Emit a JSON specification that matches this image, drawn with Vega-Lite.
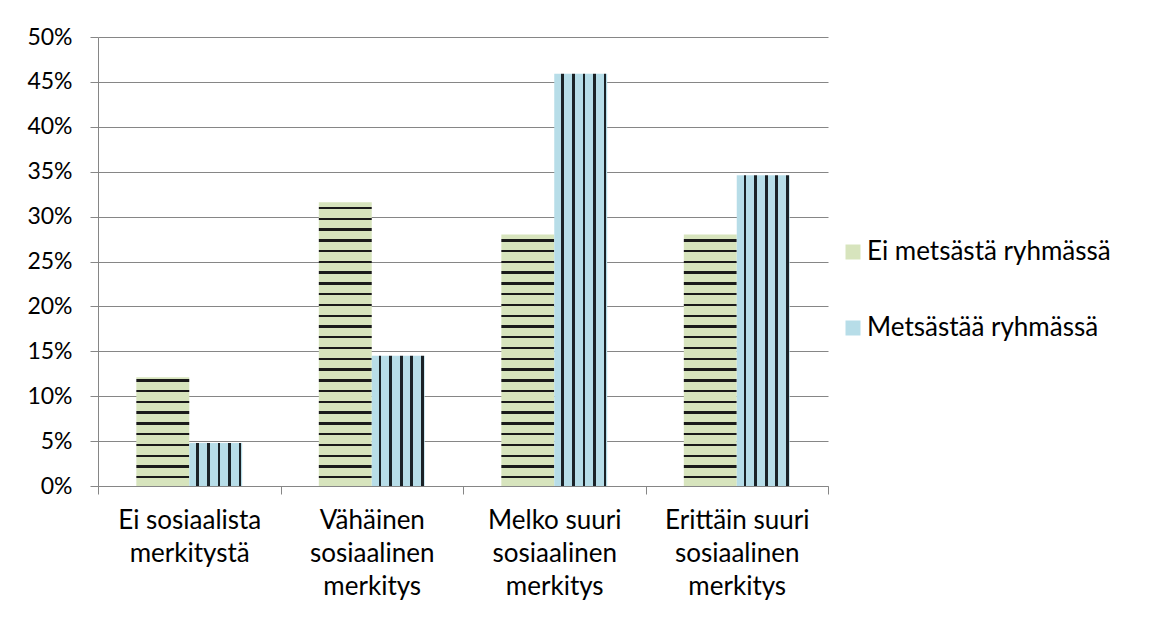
{
  "$schema": "https://vega.github.io/schema/vega-lite/v6.json",
  "width": 730,
  "height": 449,
  "autosize": "none",
  "padding": {"left": 98, "top": 37, "right": 340, "bottom": 132},
  "background": "white",
  "config": {"font": "Lato", "view": {"stroke": null}},
  "data": {"values": [
    {"category": "Ei sosiaalista merkitystä", "series": "Ei metsästä ryhmässä", "value": 0.121},
    {"category": "Ei sosiaalista merkitystä", "series": "Metsästää ryhmässä", "value": 0.048},
    {"category": "Vähäinen sosiaalinen merkitys", "series": "Ei metsästä ryhmässä", "value": 0.316},
    {"category": "Vähäinen sosiaalinen merkitys", "series": "Metsästää ryhmässä", "value": 0.145},
    {"category": "Melko suuri sosiaalinen merkitys", "series": "Ei metsästä ryhmässä", "value": 0.28},
    {"category": "Melko suuri sosiaalinen merkitys", "series": "Metsästää ryhmässä", "value": 0.459},
    {"category": "Erittäin suuri sosiaalinen merkitys", "series": "Ei metsästä ryhmässä", "value": 0.28},
    {"category": "Erittäin suuri sosiaalinen merkitys", "series": "Metsästää ryhmässä", "value": 0.346}
  ]},
  "mark": {"type": "bar", "strokeWidth": 0},
  "encoding": {
    "x": {
      "field": "category", "type": "nominal", "sort": null,
      "scale": {"paddingInner": 0, "paddingOuter": 0},
      "axis": {
        "title": null, "labelAngle": 0, "tickBand": "extent", "tickSize": 8,
        "domainColor": "#868686", "tickColor": "#868686", "grid": false,
        "labelFont": "Lato", "labelFontSize": 26, "labelColor": "#000000",
        "labelPadding": 13, "labelLineHeight": 33, "labelLimit": 0,
        "labelExpr": "datum.label === 'Ei sosiaalista merkitystä' ? ['Ei sosiaalista', 'merkitystä'] : datum.label === 'Vähäinen sosiaalinen merkitys' ? ['Vähäinen', 'sosiaalinen', 'merkitys'] : datum.label === 'Melko suuri sosiaalinen merkitys' ? ['Melko suuri', 'sosiaalinen', 'merkitys'] : datum.label === 'Erittäin suuri sosiaalinen merkitys' ? ['Erittäin suuri', 'sosiaalinen', 'merkitys'] : ''"
      }
    },
    "xOffset": {
      "field": "series", "type": "nominal",
      "sort": ["Ei metsästä ryhmässä", "Metsästää ryhmässä"],
      "scale": {"paddingInner": 0, "paddingOuter": 0.724}
    },
    "y": {
      "field": "value", "type": "quantitative",
      "scale": {"domain": [0, 0.5], "nice": false},
      "axis": {
        "title": null, "values": [0, 0.05, 0.1, 0.15, 0.2, 0.25, 0.3, 0.35, 0.4, 0.45, 0.5],
        "format": ".0%", "tickSize": 8, "labelPadding": 18,
        "domainColor": "#868686", "tickColor": "#868686", "gridColor": "#868686", "grid": true,
        "labelFont": "Lato", "labelFontSize": 23, "labelColor": "#000000"
      }
    },
    "fill": {
      "field": "series", "type": "nominal",
      "scale": {"domain": ["Ei metsästä ryhmässä", "Metsästää ryhmässä"], "range": ["#d7e4bd", "#b7dde8"]},
      "legend": {
        "title": null, "orient": "none", "legendX": 742, "legendY": 202, "padding": 0,
        "symbolType": "square", "symbolSize": 225, "symbolStrokeWidth": 0,
        "labelFont": "Lato", "labelFontSize": 26, "labelColor": "#000000", "labelLimit": 0,
        "rowPadding": 50, "labelOffset": 1
      },
      "condition": [
        {"test": "datum.series === 'Ei metsästä ryhmässä' && datum.category === 'Ei sosiaalista merkitystä'",
         "value": {"gradient": "linear", "x1": 0, "y1": 1, "x2": 0, "y2": -1.6761, "stops": [
          {"offset": 0, "color": "#d7e4bd"},
          {"offset": 0.0258, "color": "#d7e4bd"}, {"offset": 0.0258, "color": "#1a1a1a"}, {"offset": 0.0340, "color": "#1a1a1a"}, {"offset": 0.0340, "color": "#d7e4bd"},
          {"offset": 0.0628, "color": "#d7e4bd"}, {"offset": 0.0628, "color": "#1a1a1a"}, {"offset": 0.0711, "color": "#1a1a1a"}, {"offset": 0.0711, "color": "#d7e4bd"},
          {"offset": 0.0999, "color": "#d7e4bd"}, {"offset": 0.0999, "color": "#1a1a1a"}, {"offset": 0.1081, "color": "#1a1a1a"}, {"offset": 0.1081, "color": "#d7e4bd"},
          {"offset": 0.1369, "color": "#d7e4bd"}, {"offset": 0.1369, "color": "#1a1a1a"}, {"offset": 0.1452, "color": "#1a1a1a"}, {"offset": 0.1452, "color": "#d7e4bd"},
          {"offset": 0.1739, "color": "#d7e4bd"}, {"offset": 0.1739, "color": "#1a1a1a"}, {"offset": 0.1822, "color": "#1a1a1a"}, {"offset": 0.1822, "color": "#d7e4bd"},
          {"offset": 0.2110, "color": "#d7e4bd"}, {"offset": 0.2110, "color": "#1a1a1a"}, {"offset": 0.2192, "color": "#1a1a1a"}, {"offset": 0.2192, "color": "#d7e4bd"},
          {"offset": 0.2480, "color": "#d7e4bd"}, {"offset": 0.2480, "color": "#1a1a1a"}, {"offset": 0.2563, "color": "#1a1a1a"}, {"offset": 0.2563, "color": "#d7e4bd"},
          {"offset": 0.2851, "color": "#d7e4bd"}, {"offset": 0.2851, "color": "#1a1a1a"}, {"offset": 0.2933, "color": "#1a1a1a"}, {"offset": 0.2933, "color": "#d7e4bd"},
          {"offset": 0.3221, "color": "#d7e4bd"}, {"offset": 0.3221, "color": "#1a1a1a"}, {"offset": 0.3303, "color": "#1a1a1a"}, {"offset": 0.3303, "color": "#d7e4bd"},
          {"offset": 0.3591, "color": "#d7e4bd"}, {"offset": 0.3591, "color": "#1a1a1a"}, {"offset": 0.3674, "color": "#1a1a1a"}, {"offset": 0.3674, "color": "#d7e4bd"},
          {"offset": 1, "color": "#d7e4bd"}]}},
        {"test": "datum.series === 'Ei metsästä ryhmässä' && datum.category === 'Vähäinen sosiaalinen merkitys'",
         "value": {"gradient": "linear", "x1": 0, "y1": 1, "x2": 0, "y2": -0.02474, "stops": [
          {"offset": 0, "color": "#d7e4bd"},
          {"offset": 0.0258, "color": "#d7e4bd"}, {"offset": 0.0258, "color": "#1a1a1a"}, {"offset": 0.0340, "color": "#1a1a1a"}, {"offset": 0.0340, "color": "#d7e4bd"},
          {"offset": 0.0628, "color": "#d7e4bd"}, {"offset": 0.0628, "color": "#1a1a1a"}, {"offset": 0.0711, "color": "#1a1a1a"}, {"offset": 0.0711, "color": "#d7e4bd"},
          {"offset": 0.0999, "color": "#d7e4bd"}, {"offset": 0.0999, "color": "#1a1a1a"}, {"offset": 0.1081, "color": "#1a1a1a"}, {"offset": 0.1081, "color": "#d7e4bd"},
          {"offset": 0.1369, "color": "#d7e4bd"}, {"offset": 0.1369, "color": "#1a1a1a"}, {"offset": 0.1452, "color": "#1a1a1a"}, {"offset": 0.1452, "color": "#d7e4bd"},
          {"offset": 0.1739, "color": "#d7e4bd"}, {"offset": 0.1739, "color": "#1a1a1a"}, {"offset": 0.1822, "color": "#1a1a1a"}, {"offset": 0.1822, "color": "#d7e4bd"},
          {"offset": 0.2110, "color": "#d7e4bd"}, {"offset": 0.2110, "color": "#1a1a1a"}, {"offset": 0.2192, "color": "#1a1a1a"}, {"offset": 0.2192, "color": "#d7e4bd"},
          {"offset": 0.2480, "color": "#d7e4bd"}, {"offset": 0.2480, "color": "#1a1a1a"}, {"offset": 0.2563, "color": "#1a1a1a"}, {"offset": 0.2563, "color": "#d7e4bd"},
          {"offset": 0.2851, "color": "#d7e4bd"}, {"offset": 0.2851, "color": "#1a1a1a"}, {"offset": 0.2933, "color": "#1a1a1a"}, {"offset": 0.2933, "color": "#d7e4bd"},
          {"offset": 0.3221, "color": "#d7e4bd"}, {"offset": 0.3221, "color": "#1a1a1a"}, {"offset": 0.3303, "color": "#1a1a1a"}, {"offset": 0.3303, "color": "#d7e4bd"},
          {"offset": 0.3591, "color": "#d7e4bd"}, {"offset": 0.3591, "color": "#1a1a1a"}, {"offset": 0.3674, "color": "#1a1a1a"}, {"offset": 0.3674, "color": "#d7e4bd"},
          {"offset": 0.3962, "color": "#d7e4bd"}, {"offset": 0.3962, "color": "#1a1a1a"}, {"offset": 0.4044, "color": "#1a1a1a"}, {"offset": 0.4044, "color": "#d7e4bd"},
          {"offset": 0.4332, "color": "#d7e4bd"}, {"offset": 0.4332, "color": "#1a1a1a"}, {"offset": 0.4415, "color": "#1a1a1a"}, {"offset": 0.4415, "color": "#d7e4bd"},
          {"offset": 0.4702, "color": "#d7e4bd"}, {"offset": 0.4702, "color": "#1a1a1a"}, {"offset": 0.4785, "color": "#1a1a1a"}, {"offset": 0.4785, "color": "#d7e4bd"},
          {"offset": 0.5073, "color": "#d7e4bd"}, {"offset": 0.5073, "color": "#1a1a1a"}, {"offset": 0.5155, "color": "#1a1a1a"}, {"offset": 0.5155, "color": "#d7e4bd"},
          {"offset": 0.5443, "color": "#d7e4bd"}, {"offset": 0.5443, "color": "#1a1a1a"}, {"offset": 0.5526, "color": "#1a1a1a"}, {"offset": 0.5526, "color": "#d7e4bd"},
          {"offset": 0.5814, "color": "#d7e4bd"}, {"offset": 0.5814, "color": "#1a1a1a"}, {"offset": 0.5896, "color": "#1a1a1a"}, {"offset": 0.5896, "color": "#d7e4bd"},
          {"offset": 0.6184, "color": "#d7e4bd"}, {"offset": 0.6184, "color": "#1a1a1a"}, {"offset": 0.6266, "color": "#1a1a1a"}, {"offset": 0.6266, "color": "#d7e4bd"},
          {"offset": 0.6554, "color": "#d7e4bd"}, {"offset": 0.6554, "color": "#1a1a1a"}, {"offset": 0.6637, "color": "#1a1a1a"}, {"offset": 0.6637, "color": "#d7e4bd"},
          {"offset": 0.6925, "color": "#d7e4bd"}, {"offset": 0.6925, "color": "#1a1a1a"}, {"offset": 0.7007, "color": "#1a1a1a"}, {"offset": 0.7007, "color": "#d7e4bd"},
          {"offset": 0.7295, "color": "#d7e4bd"}, {"offset": 0.7295, "color": "#1a1a1a"}, {"offset": 0.7378, "color": "#1a1a1a"}, {"offset": 0.7378, "color": "#d7e4bd"},
          {"offset": 0.7665, "color": "#d7e4bd"}, {"offset": 0.7665, "color": "#1a1a1a"}, {"offset": 0.7748, "color": "#1a1a1a"}, {"offset": 0.7748, "color": "#d7e4bd"},
          {"offset": 0.8036, "color": "#d7e4bd"}, {"offset": 0.8036, "color": "#1a1a1a"}, {"offset": 0.8118, "color": "#1a1a1a"}, {"offset": 0.8118, "color": "#d7e4bd"},
          {"offset": 0.8406, "color": "#d7e4bd"}, {"offset": 0.8406, "color": "#1a1a1a"}, {"offset": 0.8489, "color": "#1a1a1a"}, {"offset": 0.8489, "color": "#d7e4bd"},
          {"offset": 0.8777, "color": "#d7e4bd"}, {"offset": 0.8777, "color": "#1a1a1a"}, {"offset": 0.8859, "color": "#1a1a1a"}, {"offset": 0.8859, "color": "#d7e4bd"},
          {"offset": 0.9147, "color": "#d7e4bd"}, {"offset": 0.9147, "color": "#1a1a1a"}, {"offset": 0.9229, "color": "#1a1a1a"}, {"offset": 0.9229, "color": "#d7e4bd"},
          {"offset": 0.9517, "color": "#d7e4bd"}, {"offset": 0.9517, "color": "#1a1a1a"}, {"offset": 0.9600, "color": "#1a1a1a"}, {"offset": 0.9600, "color": "#d7e4bd"},
          {"offset": 1, "color": "#d7e4bd"}]}},
        {"test": "datum.series === 'Ei metsästä ryhmässä'",
         "value": {"gradient": "linear", "x1": 0, "y1": 1, "x2": 0, "y2": -0.1565, "stops": [
          {"offset": 0, "color": "#d7e4bd"},
          {"offset": 0.0258, "color": "#d7e4bd"}, {"offset": 0.0258, "color": "#1a1a1a"}, {"offset": 0.0340, "color": "#1a1a1a"}, {"offset": 0.0340, "color": "#d7e4bd"},
          {"offset": 0.0628, "color": "#d7e4bd"}, {"offset": 0.0628, "color": "#1a1a1a"}, {"offset": 0.0711, "color": "#1a1a1a"}, {"offset": 0.0711, "color": "#d7e4bd"},
          {"offset": 0.0999, "color": "#d7e4bd"}, {"offset": 0.0999, "color": "#1a1a1a"}, {"offset": 0.1081, "color": "#1a1a1a"}, {"offset": 0.1081, "color": "#d7e4bd"},
          {"offset": 0.1369, "color": "#d7e4bd"}, {"offset": 0.1369, "color": "#1a1a1a"}, {"offset": 0.1452, "color": "#1a1a1a"}, {"offset": 0.1452, "color": "#d7e4bd"},
          {"offset": 0.1739, "color": "#d7e4bd"}, {"offset": 0.1739, "color": "#1a1a1a"}, {"offset": 0.1822, "color": "#1a1a1a"}, {"offset": 0.1822, "color": "#d7e4bd"},
          {"offset": 0.2110, "color": "#d7e4bd"}, {"offset": 0.2110, "color": "#1a1a1a"}, {"offset": 0.2192, "color": "#1a1a1a"}, {"offset": 0.2192, "color": "#d7e4bd"},
          {"offset": 0.2480, "color": "#d7e4bd"}, {"offset": 0.2480, "color": "#1a1a1a"}, {"offset": 0.2563, "color": "#1a1a1a"}, {"offset": 0.2563, "color": "#d7e4bd"},
          {"offset": 0.2851, "color": "#d7e4bd"}, {"offset": 0.2851, "color": "#1a1a1a"}, {"offset": 0.2933, "color": "#1a1a1a"}, {"offset": 0.2933, "color": "#d7e4bd"},
          {"offset": 0.3221, "color": "#d7e4bd"}, {"offset": 0.3221, "color": "#1a1a1a"}, {"offset": 0.3303, "color": "#1a1a1a"}, {"offset": 0.3303, "color": "#d7e4bd"},
          {"offset": 0.3591, "color": "#d7e4bd"}, {"offset": 0.3591, "color": "#1a1a1a"}, {"offset": 0.3674, "color": "#1a1a1a"}, {"offset": 0.3674, "color": "#d7e4bd"},
          {"offset": 0.3962, "color": "#d7e4bd"}, {"offset": 0.3962, "color": "#1a1a1a"}, {"offset": 0.4044, "color": "#1a1a1a"}, {"offset": 0.4044, "color": "#d7e4bd"},
          {"offset": 0.4332, "color": "#d7e4bd"}, {"offset": 0.4332, "color": "#1a1a1a"}, {"offset": 0.4415, "color": "#1a1a1a"}, {"offset": 0.4415, "color": "#d7e4bd"},
          {"offset": 0.4702, "color": "#d7e4bd"}, {"offset": 0.4702, "color": "#1a1a1a"}, {"offset": 0.4785, "color": "#1a1a1a"}, {"offset": 0.4785, "color": "#d7e4bd"},
          {"offset": 0.5073, "color": "#d7e4bd"}, {"offset": 0.5073, "color": "#1a1a1a"}, {"offset": 0.5155, "color": "#1a1a1a"}, {"offset": 0.5155, "color": "#d7e4bd"},
          {"offset": 0.5443, "color": "#d7e4bd"}, {"offset": 0.5443, "color": "#1a1a1a"}, {"offset": 0.5526, "color": "#1a1a1a"}, {"offset": 0.5526, "color": "#d7e4bd"},
          {"offset": 0.5814, "color": "#d7e4bd"}, {"offset": 0.5814, "color": "#1a1a1a"}, {"offset": 0.5896, "color": "#1a1a1a"}, {"offset": 0.5896, "color": "#d7e4bd"},
          {"offset": 0.6184, "color": "#d7e4bd"}, {"offset": 0.6184, "color": "#1a1a1a"}, {"offset": 0.6266, "color": "#1a1a1a"}, {"offset": 0.6266, "color": "#d7e4bd"},
          {"offset": 0.6554, "color": "#d7e4bd"}, {"offset": 0.6554, "color": "#1a1a1a"}, {"offset": 0.6637, "color": "#1a1a1a"}, {"offset": 0.6637, "color": "#d7e4bd"},
          {"offset": 0.6925, "color": "#d7e4bd"}, {"offset": 0.6925, "color": "#1a1a1a"}, {"offset": 0.7007, "color": "#1a1a1a"}, {"offset": 0.7007, "color": "#d7e4bd"},
          {"offset": 0.7295, "color": "#d7e4bd"}, {"offset": 0.7295, "color": "#1a1a1a"}, {"offset": 0.7378, "color": "#1a1a1a"}, {"offset": 0.7378, "color": "#d7e4bd"},
          {"offset": 0.7665, "color": "#d7e4bd"}, {"offset": 0.7665, "color": "#1a1a1a"}, {"offset": 0.7748, "color": "#1a1a1a"}, {"offset": 0.7748, "color": "#d7e4bd"},
          {"offset": 0.8036, "color": "#d7e4bd"}, {"offset": 0.8036, "color": "#1a1a1a"}, {"offset": 0.8118, "color": "#1a1a1a"}, {"offset": 0.8118, "color": "#d7e4bd"},
          {"offset": 0.8406, "color": "#d7e4bd"}, {"offset": 0.8406, "color": "#1a1a1a"}, {"offset": 0.8489, "color": "#1a1a1a"}, {"offset": 0.8489, "color": "#d7e4bd"},
          {"offset": 1, "color": "#d7e4bd"}]}},
        {"test": "datum.series === 'Metsästää ryhmässä'",
         "value": {"gradient": "linear", "x1": 0, "y1": 0, "x2": 1, "y2": 0, "stops": [
          {"offset": 0, "color": "#b7dde8"},
          {"offset": 0.132, "color": "#b7dde8"}, {"offset": 0.132, "color": "#1a2227"}, {"offset": 0.182, "color": "#1a2227"}, {"offset": 0.182, "color": "#b7dde8"},
          {"offset": 0.334, "color": "#b7dde8"}, {"offset": 0.334, "color": "#1a2227"}, {"offset": 0.384, "color": "#1a2227"}, {"offset": 0.384, "color": "#b7dde8"},
          {"offset": 0.536, "color": "#b7dde8"}, {"offset": 0.536, "color": "#1a2227"}, {"offset": 0.586, "color": "#1a2227"}, {"offset": 0.586, "color": "#b7dde8"},
          {"offset": 0.731, "color": "#b7dde8"}, {"offset": 0.731, "color": "#1a2227"}, {"offset": 0.781, "color": "#1a2227"}, {"offset": 0.781, "color": "#b7dde8"},
          {"offset": 0.933, "color": "#b7dde8"}, {"offset": 0.933, "color": "#1a2227"}, {"offset": 0.983, "color": "#1a2227"}, {"offset": 0.983, "color": "#b7dde8"},
          {"offset": 1, "color": "#b7dde8"}]}}
      ]
    }
  }
}
